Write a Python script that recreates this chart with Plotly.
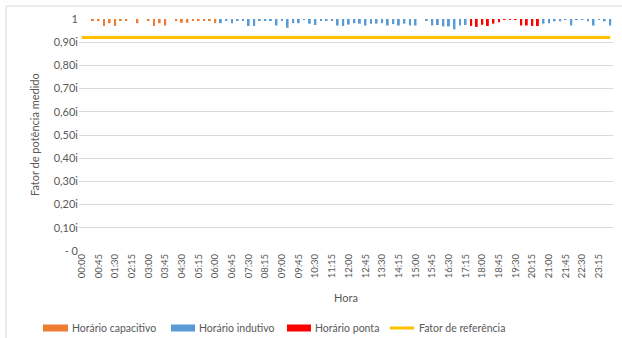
import plotly.graph_objects as go

# 15-minute intervals over one day
horas = [f"{h:02d}:{m:02d}" for h in range(24) for m in (0, 15, 30, 45)]
rotulos_hora = horas[::3]

# measured power factor per interval
fator_medido = [
    1.000, 1.000, 0.992, 0.992, 0.970, 0.982, 0.970, 0.993, 0.993, 1.000,
    0.982, 1.000, 0.993, 0.970, 0.982, 0.972, 1.000, 0.992, 0.984, 0.984,
    0.992, 0.993, 0.993, 0.992, 0.982,
    0.982, 0.992, 0.982, 0.992, 0.992, 0.970, 0.970, 0.993, 0.993, 0.994,
    0.972, 0.992, 0.962, 0.982, 0.982, 0.998, 0.980, 0.974, 0.992, 0.993,
    0.992, 0.972, 0.970, 0.976, 0.982, 0.980, 0.972, 0.980, 0.980, 0.982,
    0.972, 0.978, 0.972, 0.980, 0.972, 0.972, 1.000, 0.992, 0.972, 0.974,
    0.968, 0.968, 0.955, 0.972, 0.974,
    0.970, 0.966, 0.975, 0.970, 0.980, 0.986, 0.996, 0.996, 0.996, 0.972,
    0.972, 0.970, 0.970,
    0.980, 0.982, 0.990, 0.990, 0.996, 0.972, 0.996, 0.996, 0.990, 0.972,
    0.996, 0.990, 0.972,
]

# tariff period of each interval
periodo = (["Horário capacitivo"] * 25 + ["Horário indutivo"] * 45
           + ["Horário ponta"] * 13 + ["Horário indutivo"] * 13)

fator_referencia = 0.92
nome_referencia = "Fator de referência"

y_ticks = [0, 0.1, 0.2, 0.3, 0.4, 0.5, 0.6, 0.7, 0.8, 0.9, 1]
y_rotulos = ["- 0", "0,10i", "0,20i", "0,30i", "0,40i", "0,50i",
             "0,60i", "0,70i", "0,80i", "0,90i", "1"]

series = ["Horário capacitivo", "Horário indutivo", "Horário ponta"]
cores = {"Horário capacitivo": "#ED7D31", "Horário indutivo": "#5B9BD5",
         "Horário ponta": "#FF0000", nome_referencia: "#FFC000"}

FONTE = "Lato, Carlito, sans-serif"
CINZA = "#595959"

fig = go.Figure()

for nome in series:
    xs = [h for h, p in zip(horas, periodo) if p == nome]
    vs = [v for v, p in zip(fator_medido, periodo) if p == nome]
    # bars hang from the 1.0 crossing line down to the measured value
    fig.add_trace(go.Bar(x=xs, y=[v - 1 for v in vs], base=1, name=nome,
                         marker=dict(color=cores[nome], line=dict(width=0)),
                         showlegend=False))

fig.add_trace(go.Scatter(x=horas, y=[fator_referencia] * len(horas),
                         mode="lines", name=nome_referencia,
                         line=dict(color=cores[nome_referencia], width=3),
                         showlegend=False))

# plot-area geometry in pixels, used to place legend and border
L, R, T, B = 79, 613, 19, 251


def px(x):
    return (x - L) / (R - L)


def py(y):
    return (B - y) / (B - T)


shapes = [
    dict(type="rect", xref="paper", yref="paper",
         x0=px(6), x1=px(640), y0=py(6), y1=py(360),
         line=dict(color="#D9D9D9", width=1), fillcolor="rgba(0,0,0,0)",
         layer="below"),
]
annotations = [
    dict(text="Fator de potência medido", xref="paper", yref="paper",
         x=px(34), y=0.5, xanchor="center", yanchor="middle", textangle=-90,
         showarrow=False, font=dict(family=FONTE, size=11, color=CINZA)),
    dict(text="Hora", xref="paper", yref="paper", x=0.5, y=py(297),
         xanchor="center", yanchor="middle", showarrow=False,
         font=dict(family=FONTE, size=11, color=CINZA)),
]

# legend: swatch start, swatch end, text start
legenda = [
    ("Horário capacitivo", 43, 68, 70, "rect"),
    ("Horário indutivo", 171, 195, 197, "rect"),
    ("Horário ponta", 287, 311, 313, "rect"),
    (nome_referencia, 390, 414, 417, "line"),
]
yl = 328
for nome, a, b, t, kind in legenda:
    if kind == "rect":
        shapes.append(dict(type="rect", xref="paper", yref="paper",
                           x0=px(a), x1=px(b), y0=py(yl - 3.5), y1=py(yl + 3.5),
                           fillcolor=cores[nome], line=dict(width=0)))
    else:
        shapes.append(dict(type="line", xref="paper", yref="paper",
                           x0=px(a), x1=px(b), y0=py(yl), y1=py(yl),
                           line=dict(color=cores[nome], width=3)))
    annotations.append(dict(text=nome, xref="paper", yref="paper",
                            x=px(t), y=py(yl), xanchor="left", yanchor="middle",
                            showarrow=False,
                            font=dict(family=FONTE, size=10.5, color=CINZA)))

fig.update_layout(
    width=622, height=338,
    margin=dict(l=L, r=622 - R, t=T, b=338 - B),
    paper_bgcolor="white", plot_bgcolor="white",
    barmode="overlay", bargap=0.65,
    shapes=shapes, annotations=annotations,
    font=dict(family=FONTE, color=CINZA),
)
fig.update_xaxes(type="category", categoryorder="array", categoryarray=horas,
                 tickmode="array", tickvals=rotulos_hora, ticktext=rotulos_hora,
                 tickangle=-90, tickfont=dict(family=FONTE, size=9.5, color=CINZA),
                 showgrid=False, showline=False, ticks="", zeroline=False)
fig.update_yaxes(range=[0, 1], tickmode="array", tickvals=y_ticks,
                 ticktext=y_rotulos, tickfont=dict(family=FONTE, size=11, color=CINZA),
                 showgrid=True, gridcolor="#D9D9D9", gridwidth=1,
                 zeroline=False, showline=False, ticks="")

fig.write_html("out.html")
